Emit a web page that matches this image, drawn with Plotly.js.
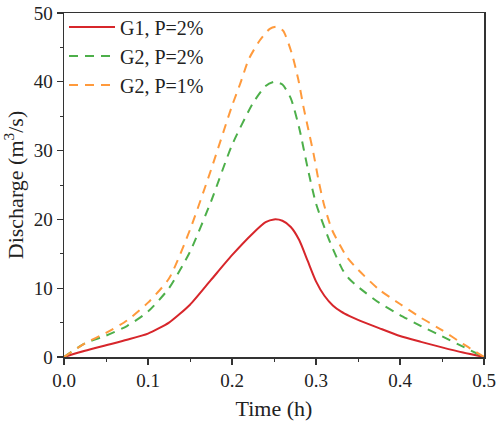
<!DOCTYPE html>
<html>
<head>
<meta charset="utf-8">
<script src="https://cdn.plot.ly/plotly-3.0.1.min.js"></script>
<style>
  html, body { margin: 0; padding: 0; background: #fff; }
  #chart { width: 500px; height: 430px; }
</style>
</head>
<body>
<div id="chart"></div>
<script>
// Flood hydrographs: discharge over time for three design cases
const timeG1 = [0, 0.025, 0.05, 0.075, 0.1, 0.125, 0.15, 0.175, 0.2, 0.225, 0.24, 0.25, 0.26, 0.27, 0.28, 0.29, 0.3, 0.31, 0.32, 0.33, 0.34, 0.35, 0.375, 0.4, 0.425, 0.45, 0.475, 0.5];
const flowG1P2 = [0, 0.9, 1.7, 2.5, 3.4, 5.0, 7.6, 11.2, 14.8, 18.0, 19.6, 20.0, 19.8, 18.9, 17.0, 14.0, 11.0, 8.9, 7.5, 6.6, 5.95, 5.4, 4.2, 3.05, 2.2, 1.4, 0.65, 0];

const timeG2P2 = [0, 0.025, 0.05, 0.075, 0.1, 0.125, 0.15, 0.175, 0.2, 0.225, 0.24, 0.25, 0.26, 0.27, 0.28, 0.29, 0.3, 0.317, 0.332, 0.34, 0.35, 0.375, 0.4, 0.425, 0.45, 0.475, 0.5];
const flowG2P2 = [0, 2.0, 3.1, 4.5, 6.6, 10.0, 15.3, 22.6, 30.8, 36.9, 39.4, 40.0, 39.6, 37.6, 33.3, 27.5, 22.3, 16.6, 12.6, 11.3, 10.2, 7.9, 6.1, 4.5, 3.0, 1.5, 0];

const timeG2P1 = [0, 0.025, 0.05, 0.075, 0.1, 0.125, 0.15, 0.175, 0.2, 0.21, 0.22, 0.233, 0.245, 0.253, 0.261, 0.271, 0.279, 0.285, 0.291, 0.297, 0.303, 0.309, 0.319, 0.337, 0.35, 0.375, 0.4, 0.425, 0.45, 0.475, 0.5];
const flowG2P1 = [0, 2.0, 3.5, 5.3, 7.9, 11.4, 18.5, 27.2, 36.5, 39.8, 43.3, 46.0, 47.7, 48.0, 47.4, 44.2, 40.3, 36.4, 33.0, 29.6, 25.7, 22.4, 18.5, 14.5, 12.7, 9.8, 7.7, 5.7, 3.9, 1.9, 0];

const seriesNames = ['G1, P=2%', 'G2, P=2%', 'G2, P=1%'];

const serif = 'Liberation Serif, Times New Roman, serif';

const traces = [
  {
    x: timeG1, y: flowG1P2, name: seriesNames[0], mode: 'lines',
    line: { color: '#d7262b', width: 2, shape: 'spline', smoothing: 0.6 }
  },
  {
    x: timeG2P2, y: flowG2P2, name: seriesNames[1], mode: 'lines',
    line: { color: '#4daf4a', width: 2, dash: '9px,7px', shape: 'spline', smoothing: 0.6 }
  },
  {
    x: timeG2P1, y: flowG2P1, name: seriesNames[2], mode: 'lines',
    line: { color: '#ff9a3c', width: 2, dash: '9px,7px', shape: 'spline', smoothing: 0.6 }
  }
];

const axisCommon = {
  showline: true, mirror: true, linecolor: '#333', linewidth: 1.5,
  showgrid: false, zeroline: false,
  ticks: 'outside', ticklen: 6, tickwidth: 1.2, tickcolor: '#333',
  tickfont: { family: serif, size: 19, color: '#222' }
};

const layout = {
  width: 500, height: 430,
  margin: { l: 64, r: 16, t: 13, b: 73, autoexpand: false },
  paper_bgcolor: '#fff', plot_bgcolor: '#fff',
  showlegend: true,
  legend: {
    x: 0.0, y: 1.016, xanchor: 'left', yanchor: 'top',
    bgcolor: 'rgba(0,0,0,0)', borderwidth: 0,
    font: { family: serif, size: 20, color: '#222' },
    tracegroupgap: 0, itemwidth: 46
  },
  xaxis: Object.assign({}, axisCommon, {
    range: [0, 0.5], dtick: 0.1, tickformat: '.1f',
    minor: { ticks: 'outside', ticklen: 3, dtick: 0.05, tickcolor: '#333', tickwidth: 1 },
    title: { text: 'Time (h)', font: { family: serif, size: 22, color: '#222' }, standoff: 10 }
  }),
  yaxis: Object.assign({}, axisCommon, {
    range: [0, 50], dtick: 10,
    minor: { ticks: 'outside', ticklen: 3, dtick: 5, tickcolor: '#333', tickwidth: 1 },
    title: { text: 'Discharge (m<sup>3</sup>/s)', font: { family: serif, size: 22, color: '#222' }, standoff: 6 }
  })
};

Plotly.newPlot('chart', traces, layout, { displayModeBar: false, staticPlot: true });
</script>
</body>
</html>
